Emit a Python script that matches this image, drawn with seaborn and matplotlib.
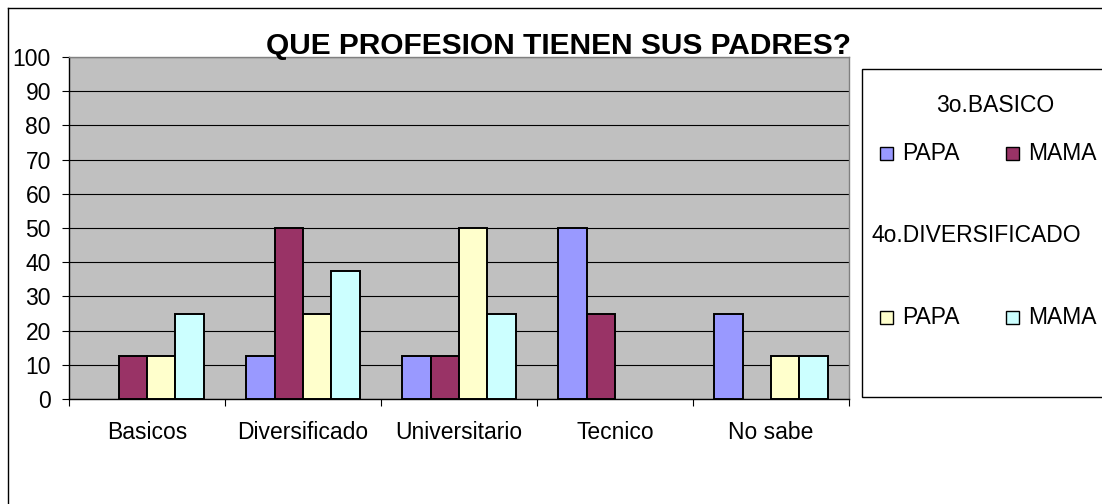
import matplotlib
matplotlib.use('Agg')
import matplotlib.pyplot as plt
from matplotlib.patches import Rectangle
from matplotlib.lines import Line2D
import pandas as pd
import seaborn as sns

# datos
categorias = ['Basicos', 'Diversificado', 'Universitario', 'Tecnico', 'No sabe']
papa_3 = [0, 12.5, 12.5, 50, 25]
mama_3 = [12.5, 50, 12.5, 25, 0]
papa_4 = [12.5, 25, 50, 0, 12.5]
mama_4 = [25, 37.5, 25, 0, 12.5]
series = ['3o.BASICO PAPA', '3o.BASICO MAMA', '4o.DIVERSIFICADO PAPA', '4o.DIVERSIFICADO MAMA']
colores = ['#9999FF', '#993366', '#FFFFCC', '#CCFFFF']
yticks = list(range(0, 101, 10))

rows = []
for s, vals in zip(series, [papa_3, mama_3, papa_4, mama_4]):
    for c, v in zip(categorias, vals):
        rows.append({'categoria': c, 'serie': s, 'valor': v})
df = pd.DataFrame(rows)

plt.rcParams['font.family'] = ['Liberation Sans', 'DejaVu Sans']

W, H = 1102, 504
def fx(px):
    return px / W
def fy(py):
    return 1 - py / H

fs = 16.5

fig = plt.figure(figsize=(W / 100, H / 100), dpi=100)
fig.patch.set_facecolor('white')

# borde exterior del grafico
fig.add_artist(Line2D([fx(8), 1], [fy(8), fy(8)], color='black', lw=1, transform=fig.transFigure))
fig.add_artist(Line2D([fx(8), fx(8)], [fy(8), 0], color='black', lw=1, transform=fig.transFigure))

ax = fig.add_axes([fx(69), fy(399), fx(849) - fx(69), fy(57) - fy(399)])
ax.set_facecolor('#C0C0C0')

sns.barplot(data=df, x='categoria', y='valor', hue='serie', order=categorias,
            hue_order=series, palette=colores, saturation=1, edgecolor='black',
            linewidth=1.4, width=0.727, legend=False, ax=ax, zorder=3)

# Excel no dibuja las barras con valor 0
for p in ax.patches:
    if p.get_height() == 0:
        p.set_visible(False)

ax.set_xlim(-0.5, 4.5)
ax.set_ylim(0, 100)
ax.set_yticks(yticks)
ax.set_xlabel('')
ax.set_ylabel('')
ax.yaxis.grid(True, color='black', lw=0.8, zorder=1)
ax.set_axisbelow(True)
ax.xaxis.grid(False)

ax.tick_params(axis='y', length=5, width=0.8, direction='out', pad=8, labelsize=fs)
ax.tick_params(axis='x', which='major', length=0, pad=16, labelsize=fs)
ax.set_xticks([i - 0.5 for i in range(len(categorias) + 1)], minor=True)
ax.tick_params(axis='x', which='minor', length=5, width=0.8, direction='out')

for side in ['left', 'bottom']:
    ax.spines[side].set_color('black')
    ax.spines[side].set_linewidth(1)
for side in ['top', 'right']:
    ax.spines[side].set_color('#808080')
    ax.spines[side].set_linewidth(1)

fig.text(fx(558), fy(54), 'QUE PROFESION TIENEN SUS PADRES?', ha='center', va='baseline',
         fontsize=21.5, fontweight='bold')

# leyenda dibujada a mano
fig.add_artist(Rectangle((fx(862), fy(397)), fx(1115) - fx(862), fy(69) - fy(397),
                         transform=fig.transFigure, facecolor='white', edgecolor='black', lw=1))
fig.text(fx(995), fy(105), '3o.BASICO', ha='center', va='center', fontsize=fs)
fig.text(fx(872), fy(235), '4o.DIVERSIFICADO', ha='left', va='center', fontsize=fs)

filas = [(153, series[0], series[1]), (317, series[2], series[3])]
for yc, s1, s2 in filas:
    for (xs, s) in [(880, s1), (1006, s2)]:
        col = colores[series.index(s)]
        fig.add_artist(Rectangle((fx(xs), fy(yc + 6.5)), fx(13), 13 / H,
                                 transform=fig.transFigure, facecolor=col,
                                 edgecolor='black', lw=1))
        fig.text(fx(xs + 22), fy(yc), s.split(' ')[1], ha='left', va='center', fontsize=fs)

fig.savefig('out.png', dpi=100)
